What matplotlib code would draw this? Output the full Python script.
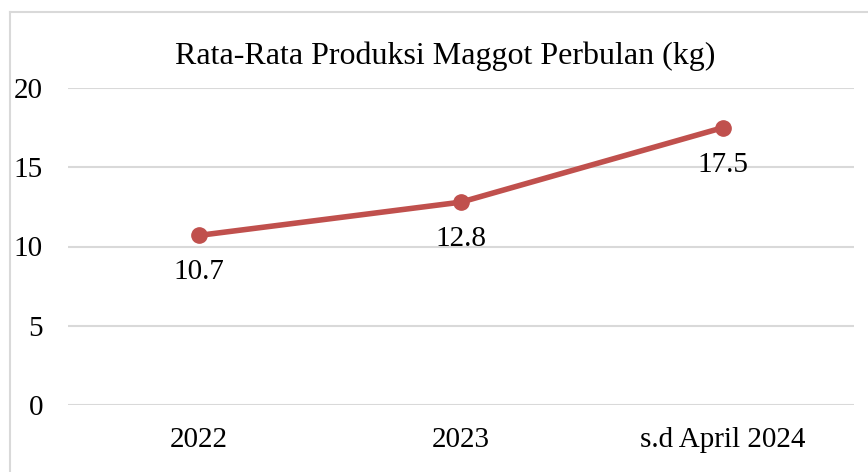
import matplotlib
matplotlib.use("Agg")
import matplotlib.pyplot as plt
from matplotlib.lines import Line2D

categories = ["2022", "2023", "s.d April 2024"]
values = [10.7, 12.8, 17.5]
yticks = [0, 5, 10, 15, 20]
title = "Rata-Rata Produksi Maggot Perbulan (kg)"

plt.rcParams['font.family'] = ['Liberation Serif', 'DejaVu Serif']

W, H = 868, 472
fig = plt.figure(figsize=(W / 100, H / 100), dpi=100)
ax = fig.add_axes([68 / W, 1 - 405 / H, (854 - 68) / W, (405 - 88) / H])

x = list(range(len(categories)))
ax.plot(x, values, color="#C0504D", lw=4, marker="o", ms=11, solid_capstyle="round", zorder=3)
for xi, v in zip(x, values):
    ax.annotate(f"{v}", (xi, v), xytext=(0, -37), textcoords="offset pixels",
                ha="center", va="center", fontsize=21, color="black")

ax.set_xlim(-0.5, 2.5)
ax.set_ylim(0, 20)
ax.set_yticks(yticks)
ax.set_yticklabels([str(t) for t in yticks], fontsize=21)
ax.set_xticks(x)
ax.set_xticklabels(categories, fontsize=21)
ax.tick_params(axis="both", length=0)
ax.tick_params(axis="y", pad=18)
ax.tick_params(axis="x", pad=16)
ax.grid(axis="y", color="#d9d9d9", lw=1.5)
ax.set_axisbelow(True)
for s in ax.spines.values():
    s.set_visible(False)

fig.text(445 / W, 1 - 56 / H, title, ha="center", va="center", fontsize=23)

# outer chart border (partially visible)
fig.add_artist(Line2D([10 / W, 10 / W], [0, 1 - 12 / H], transform=fig.transFigure, color="#d9d9d9", lw=1.5))
fig.add_artist(Line2D([10 / W, 1], [1 - 12 / H, 1 - 12 / H], transform=fig.transFigure, color="#d9d9d9", lw=1.5))

fig.savefig("out.png", dpi=100)
